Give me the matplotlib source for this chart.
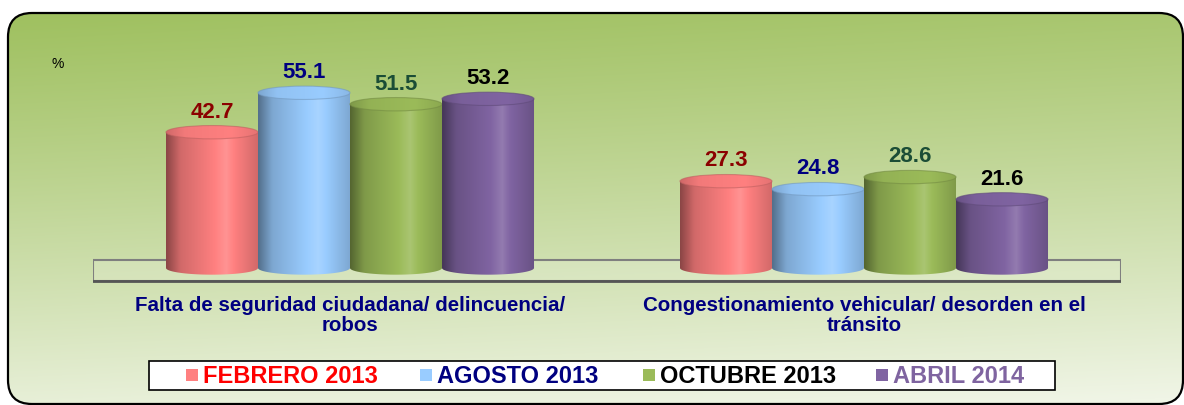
import numpy as np
import matplotlib
matplotlib.use("Agg")
import matplotlib.pyplot as plt
from matplotlib.patches import Ellipse, PathPatch, Rectangle, FancyBboxPatch, Polygon
from matplotlib.path import Path
from matplotlib import transforms
from matplotlib.colors import to_rgb

plt.rcParams['font.family'] = ['Liberation Sans', 'DejaVu Sans']

# datos
categorias = ["Falta de seguridad ciudadana/ delincuencia/\nrobos",
              "Congestionamiento vehicular/ desorden en el\ntránsito"]
series = ["FEBRERO 2013", "AGOSTO 2013", "OCTUBRE 2013", "ABRIL 2014"]
febrero = [42.7, 27.3]
agosto = [55.1, 24.8]
octubre = [51.5, 28.6]
abril = [53.2, 21.6]
valores = [febrero, agosto, octubre, abril]

colores = ["#ff8080", "#99ccff", "#9bbb59", "#8064a2"]
col_valor = ["#8b0000", "#000080", "#1b4d36", "#000000"]
col_leyenda = ["#ff0000", "#000080", "#000000", "#7f64a0"]

W, H = 1184, 406
fig = plt.figure(figsize=(W / 100, H / 100), dpi=100)

# fondo con degradado y borde redondeado
bg = fig.add_axes([0, 0, 1, 1], zorder=0)
bg.set_xlim(0, W)
bg.set_ylim(H, 0)
bg.axis("off")
yy, xx = np.mgrid[0:H, 0:W]
t = np.clip((yy / H) ** 1.1 * 0.9 + 0.12 * xx / W, 0, 1)[..., None]
c_top = np.array(to_rgb("#9dbf5c"))
c_bot = np.array(to_rgb("#f0f5e6"))
grad = c_top * (1 - t) + c_bot * t
im = bg.imshow(grad, extent=[0, W, H, 0], aspect="auto", interpolation="bilinear")
borde = FancyBboxPatch((8, 14), 1175, 391, boxstyle="round,pad=0,rounding_size=24",
                       fc="none", ec="black", lw=1.6)
bg.add_patch(borde)
im.set_clip_path(borde)

# ejes del grafico
y0_px, px_unit = 269, 3.18
ymin, ymax = -6, 72
bot_px = y0_px - ymin * px_unit
top_px = y0_px - ymax * px_unit
ax = fig.add_axes([93 / W, 1 - bot_px / H, 1028 / W, (bot_px - top_px) / H], zorder=1)
ax.patch.set_alpha(0)
ax.axis("off")

# piso
piso = Polygon([(-0.5, -4.1), (1.5, -4.1), (1.5, 2.5), (-0.5, 2.5)], closed=True,
               fc=(1, 1, 1, 0.15), ec="#7f7f7f", lw=1.5, zorder=1)
ax.add_patch(piso)
ax.plot([-0.5, 1.5], [-4.1, -4.1], color="#555555", lw=2, zorder=1)

ancho = 0.179
e = 4.2  # altura de la elipse en unidades


def perfil(base, knots, factors, n=64):
    tt = np.linspace(0, 1, n)
    f = np.interp(tt, knots, factors)[:, None]
    c = np.array(to_rgb(base))[None, :]
    out = np.where(f <= 1, c * f, c + (1 - c) * (f - 1) * 2.5)
    return np.clip(out, 0, 1)[None, :, :]


def cilindro(xc, h, color, z):
    x0, x1 = xc - ancho / 2, xc + ancho / 2
    ang = np.linspace(np.pi, 2 * np.pi, 40)
    pts = [(xc + ancho / 2 * np.cos(a), e / 2 * np.sin(a)) for a in ang]
    pts += [(x1, h), (x0, h), pts[0]]
    cuerpo = PathPatch(Path(pts), transform=ax.transData)
    img = perfil(color, [0, 0.15, 0.65, 1], [0.55, 0.82, 1.06, 0.82])
    im1 = ax.imshow(img, extent=[x0, x1, -e / 2, h], aspect="auto",
                    interpolation="bilinear", zorder=z)
    im1.set_clip_path(cuerpo)
    tapa = Ellipse((xc, h), ancho, e, transform=ax.transData)
    img2 = perfil(color, [0, 0.2, 0.7, 1], [0.82, 0.95, 1.0, 0.9])
    im2 = ax.imshow(img2, extent=[x0, x1, h - e / 2, h + e / 2], aspect="auto",
                    interpolation="bilinear", zorder=z + 0.1)
    im2.set_clip_path(tapa)
    ax.add_patch(Ellipse((xc, h), ancho, e, fc="none",
                         ec=np.array(to_rgb(color)) * 0.75, lw=0.8, alpha=0.6,
                         zorder=z + 0.2))


for i in range(len(categorias)):
    for j, vals in enumerate(valores):
        xc = i + (j - 1.5) * ancho
        cilindro(xc, vals[i], colores[j], 2 + j)
        ax.annotate(f"{vals[i]:.1f}", (xc, vals[i] + e / 2), xytext=(0, 6.5),
                    textcoords="offset points", ha="center", va="baseline",
                    fontsize=16, fontweight="bold", color=col_valor[j], zorder=10)

ax.set_xlim(-0.5, 1.5)
ax.set_ylim(ymin, ymax)

# etiquetas de categoria
tr = transforms.blended_transform_factory(ax.transData, fig.transFigure)
for i, cat in enumerate(categorias):
    ax.text(i, 1 - 296 / H, cat, transform=tr, ha="center", va="top",
            fontsize=14.8, fontweight="bold", color="#000080", linespacing=1.1)

# capa superior: % y leyenda
ov = fig.add_axes([0, 0, 1, 1], zorder=3)
ov.set_xlim(0, W)
ov.set_ylim(H, 0)
ov.axis("off")
ov.patch.set_alpha(0)
ov.text(52, 64, "%", fontsize=10, va="center", ha="left", color="black")
ov.add_patch(Rectangle((149, 362), 906, 29, fc="white", ec="black", lw=1.2))
ley_x = [186, 420, 643, 876]
for j, s in enumerate(series):
    ov.add_patch(Rectangle((ley_x[j], 370), 12, 12, fc=colores[j], ec="none"))
    ov.text(ley_x[j] + 17, 377, s, fontsize=17, fontweight="bold",
            color=col_leyenda[j], va="center", ha="left")

fig.savefig("out.png", dpi=100)
